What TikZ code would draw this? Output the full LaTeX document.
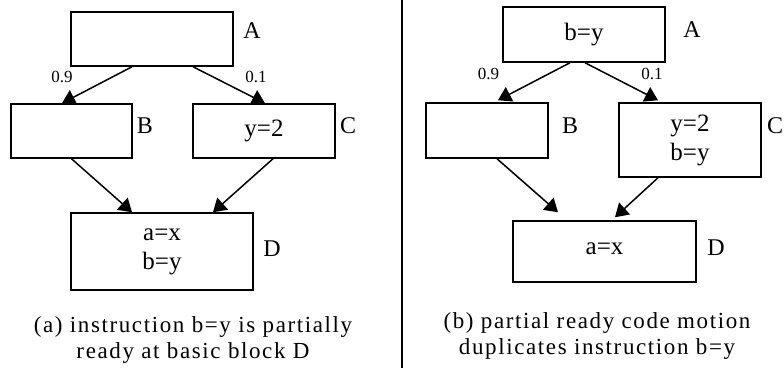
\documentclass[tikz,border=0pt]{standalone}
\usepackage{fontspec}
\setmainfont{Liberation Serif}
\newfontfamily\capfont[LetterSpace=7]{Liberation Serif}
\usetikzlibrary{arrows.meta}
\tikzset{
  box/.style={draw, line width=1.5pt, inner sep=0pt, align=center,
    font=\fontsize{25}{29}\selectfont},
  blabel/.style={inner sep=0pt, anchor=base, font=\fontsize{24}{29}\selectfont},
  elabel/.style={inner sep=0pt, anchor=base, font=\fontsize{17}{20}\selectfont},
  capt/.style={inner sep=0pt, align=center, font=\capfont\fontsize{23}{26}\selectfont},
  arr/.style={line width=1.5pt, -{Triangle[length=13pt,width=16pt]}},
}
\begin{document}
\begin{tikzpicture}[x=1pt,y=-1pt]
\useasboundingbox (0,0) rectangle (784,368);
% separator
\coordinate (sepT) at (402,0);
\coordinate (sepB) at (402,368);
\draw[line width=1.5pt] (sepT) -- (sepB);
% ---------- left panel ----------
\node[box, minimum width=162pt, minimum height=54pt] (lA) at (152,39) {};
\node[box, minimum width=121pt, minimum height=54pt] (lB) at (71.5,131) {};
\node[box, minimum width=142pt, minimum height=54pt] (lC) at (264,131) {y=2};
\node[box, minimum width=182pt, minimum height=77pt] (lD) at (162,251.5) {a=x\\b=y};
\node[blabel] (lAl) at (252,38) {A};
\node[blabel] (lBl) at (145,133) {B};
\node[blabel] (lCl) at (348,133) {C};
\node[blabel] (lDl) at (272,256) {D};
\draw[arr] ([xshift=-20pt]lA.south) -- ([xshift=-9.5pt]lB.north);
\draw[arr] ([xshift=41pt]lA.south) -- ([xshift=1pt]lC.north);
\draw[arr] (lB.south) -- ([xshift=-30pt]lD.north);
\draw[arr] ([xshift=9pt]lC.south) -- ([xshift=51pt]lD.north);
\node[elabel] (l09) at (62,82) {0.9};
\node[elabel] (l01) at (256,82) {0.1};
\node[capt] (lcap) at (193,340) {(a) instruction b=y is partially\\ready at basic block D};
% ---------- right panel ----------
\node[box, minimum width=162pt, minimum height=55pt] (rA) at (584,34.5) {b=y};
\node[box, minimum width=122pt, minimum height=55pt] (rB) at (487,130.5) {};
\node[box, minimum width=142pt, minimum height=74pt] (rC) at (690,140) {y=2\\b=y};
\node[box, minimum width=183pt, minimum height=61pt] (rD) at (604.5,251.5) {\raisebox{5pt}{a=x}};
\node[blabel] (rAl) at (692,37) {A};
\node[blabel] (rBl) at (570,133) {B};
\node[blabel] (rCl) at (775,133) {C};
\node[blabel] (rDl) at (716,255) {D};
\draw[arr] ([xshift=-14pt]rA.south) -- ([xshift=11pt,yshift=2pt]rB.north);
\draw[arr] ([xshift=1pt]rA.south) -- ([xshift=-32pt,yshift=2pt]rC.north);
\draw[arr] ([xshift=10pt]rB.south) -- ([xshift=-46.5pt,yshift=8pt]rD.north);
\draw[arr] ([xshift=-32pt]rC.south) -- ([xshift=10.5pt,yshift=3pt]rD.north);
\node[elabel] (r09) at (488.5,79) {0.9};
\node[elabel] (r01) at (652,79) {0.1};
\node[capt] (rcap) at (597,336) {(b) partial ready code motion\\duplicates instruction b=y};
\end{tikzpicture}
\end{document}
